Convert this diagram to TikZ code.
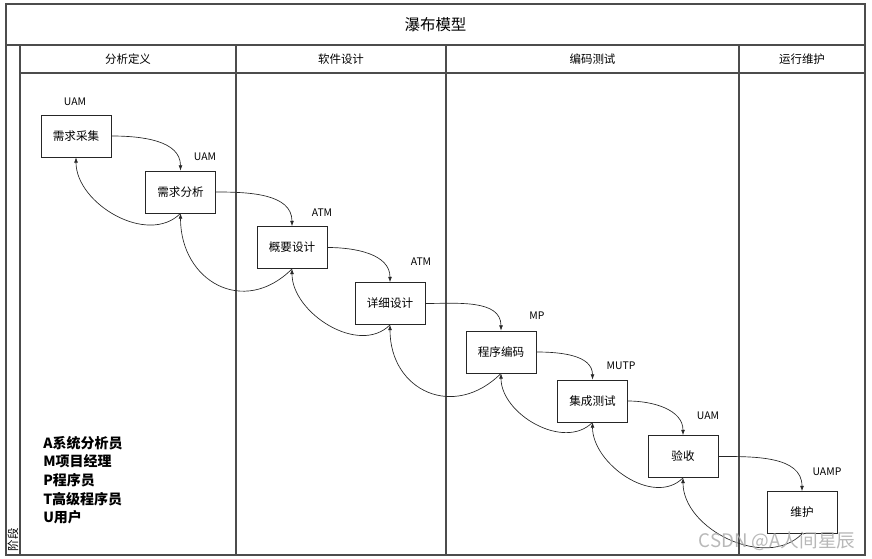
\documentclass[tikz,border=0pt]{standalone}
\usepackage{fontspec}
\setmainfont{Noto Sans CJK SC}
\usetikzlibrary{positioning,arrows.meta}

\begin{document}
\begin{tikzpicture}[x=0.75pt,y=-0.75pt,
    frame/.style={draw=black!70, line width=0.8pt},
    box/.style={draw=black!85, line width=0.6pt, minimum width=52.5pt, minimum height=31.5pt,
        inner sep=0pt, font=\fontsize{8.7}{10}\selectfont},
    head/.style={font=\fontsize{8.6}{10}\selectfont},
    role/.style={font=\fontsize{7.8}{9}\selectfont},
    link/.style={->, line width=0.5pt, black!85},
    >={Latex[length=4pt,width=3pt]}]
    \useasboundingbox (0,0) rectangle (872,559);

    % frame and lanes
    \draw[frame] (6,4) rectangle (865,555);
    \draw[frame] (6,45) -- (865,45);
    \draw[frame] (20,73) -- (865,73);
    \foreach \x in {20, 236, 446, 739} {
        \draw[frame] (\x,45) -- (\x,555);
    }
    \node[font=\fontsize{11.6}{13}\selectfont] (title) at (435.5,24.5) {瀑布模型};
    \node[head] (lane1) at (128,59) {分析定义};
    \node[head] (lane2) at (341,59) {软件设计};
    \node[head] (lane3) at (592.5,59) {编码测试};
    \node[head] (lane4) at (802,59) {运行维护};
    \node[head, rotate=90] (stage) at (13,540) {阶段};

    % phases
    \node[box] (caiji) at (76,136) {需求采集};
    \node[box] (fenxi) at (180.5,192) {需求分析};
    \node[box] (gaiyao) at (292,247.5) {概要设计};
    \node[box] (xiangxi) at (390,303.5) {详细设计};
    \node[box] (bianma) at (501,352) {程序编码};
    \node[box] (jicheng) at (592.5,401) {集成测试};
    \node[box] (yanshou) at (683,456.5) {验收};
    \node[box] (weihu) at (802,512.5) {维护};

    % roles
    \node[role] (r1) at (75,102) {UAM};
    \node[role] (r2) at (205,157) {UAM};
    \node[role] (r3) at (322,213) {ATM};
    \node[role] (r4) at (421,262) {ATM};
    \node[role] (r5) at (537,316) {MP};
    \node[role] (r6) at (621,366) {MUTP};
    \node[role] (r7) at (708,416) {UAM};
    \node[role] (r8) at (827,472) {UAMP};

    % forward and feedback
    \foreach \a/\b/\l in {caiji/fenxi/1, fenxi/gaiyao/1.4, gaiyao/xiangxi/1, xiangxi/bianma/1.4,
        bianma/jicheng/1, jicheng/yanshou/1, yanshou/weihu/1} {
        \draw[link] (\a.east) to[out=0, in=90] (\b.north);
        \draw[link] (\b.south) to[out=225, in=-90, looseness=\l] (\a.south);
    }

    % legend
    \node[anchor=north west, align=left, inner sep=0pt, font=\fontsize{10.5}{13.9}\selectfont\bfseries]
        (legend) at (43,436) {A系统分析员\\M项目经理\\P程序员\\T高级程序员\\U用户};

    \node[text=gray!65, opacity=0.85, font=\fontsize{14}{16}\selectfont] (mark) at (777,541) {CSDN @A人间星辰};
\end{tikzpicture}
\end{document}
